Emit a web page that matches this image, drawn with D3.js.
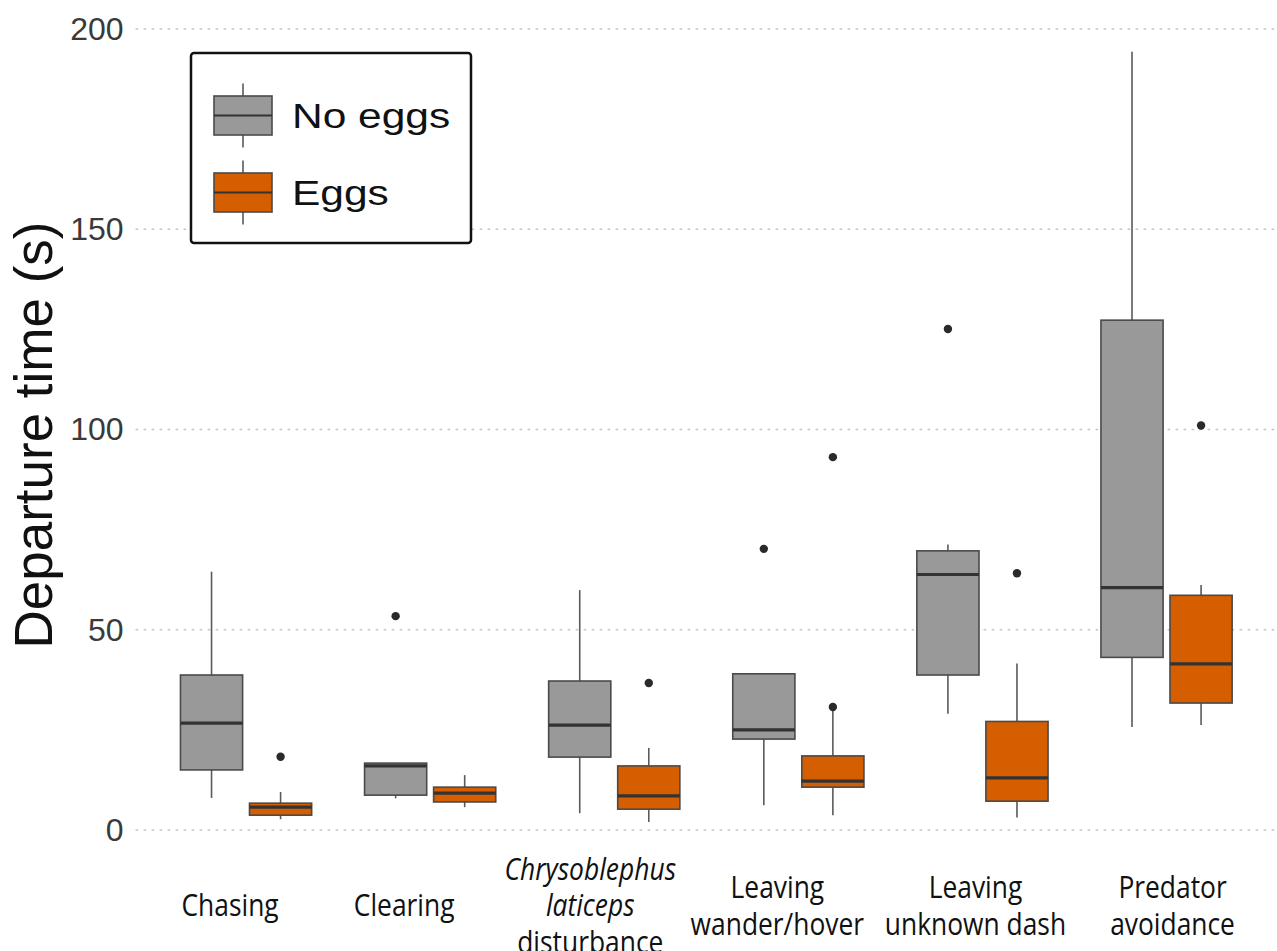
<!DOCTYPE html>
<html>
<head>
<meta charset="utf-8">
<script src="https://cdn.jsdelivr.net/npm/d3@7"></script>
<style>
  html, body { margin: 0; padding: 0; background: #fff; }
  svg { display: block; }
</style>
</head>
<body>
<svg id="chart" width="1277" height="951"></svg>
<script>
// Behaviour categories (x axis); each label is split over lines, italic flags per line
const categories = ["Chasing", "Clearing", "Chrysoblephus laticeps disturbance",
  "Leaving wander/hover", "Leaving unknown dash", "Predator avoidance"];
const categoryLines = [
  [["Chasing", false]],
  [["Clearing", false]],
  [["Chrysoblephus", true], ["laticeps", true], ["disturbance", false]],
  [["Leaving", false], ["wander/hover", false]],
  [["Leaving", false], ["unknown dash", false]],
  [["Predator", false], ["avoidance", false]]
];
const groups = ["No eggs", "Eggs"];

// Box-plot statistics, departure time in seconds
const noEggsLow  = [8.0, 7.9, 4.2, 6.2, 29.0, 25.7];
const noEggsQ1   = [15.0, 8.7, 18.2, 22.7, 38.7, 43.1];
const noEggsMed  = [26.7, 16.0, 26.2, 25.0, 63.8, 60.5];
const noEggsQ3   = [38.7, 16.7, 37.2, 39.0, 69.7, 127.3];
const noEggsHigh = [64.5, 16.7, 59.9, 39.0, 71.3, 194.3];
const noEggsOut  = [[], [53.4], [], [70.2], [125.1], []];

const eggsLow  = [2.7, 5.7, 2.0, 3.7, 3.1, 26.2];
const eggsQ1   = [3.7, 7.0, 5.2, 10.7, 7.2, 31.7];
const eggsMed  = [5.7, 9.2, 8.5, 12.2, 13.0, 41.5];
const eggsQ3   = [6.7, 10.7, 16.0, 18.5, 27.1, 58.6];
const eggsHigh = [9.5, 13.7, 20.5, 30.0, 41.6, 61.2];
const eggsOut  = [[18.3], [], [36.7], [30.7, 93.1], [64.1], [101.0]];

const yTicks = [0, 50, 100, 150, 200];
const fillColors = { "No eggs": "#999999", "Eggs": "#D55E00" };

// Layout: small horizontal nudges of the category captions relative to their band centre
const labelShift = [-16, -26, -24, -21, -7, 6];

const svg = d3.select("#chart");
const panel = { left: 135.6, right: 1277, top: 29, bottom: 830 };

const x0 = d3.scaleBand().domain(categories)
  .range([panel.left, panel.right]).paddingInner(0).paddingOuter(0.1);
const x1 = d3.scaleBand().domain(groups)
  .range([23, x0.bandwidth() - 23]).paddingInner(0.1).paddingOuter(0.05);
const y = d3.scaleLinear().domain([0, 200]).range([panel.bottom, panel.top]);

// Dotted horizontal grid lines
svg.append("g").selectAll("line").data(yTicks).join("line")
  .attr("x1", panel.left).attr("x2", panel.right)
  .attr("y1", d => y(d)).attr("y2", d => y(d))
  .attr("stroke", "#c4c4c4").attr("stroke-width", 1.6)
  .attr("stroke-dasharray", "2.5,5.5");

// Y axis tick labels
const yAxis = d3.axisLeft(y).tickValues(yTicks).tickSize(0).tickPadding(12);
const yg = svg.append("g").attr("transform", `translate(${panel.left},0)`).call(yAxis);
yg.select(".domain").remove();
yg.selectAll("text")
  .attr("font-family", "Liberation Sans, Arial, sans-serif")
  .attr("font-size", 32).attr("fill", "#3a3a3a");

// Y axis title
svg.append("text")
  .attr("transform", "translate(52,435) rotate(-90)")
  .attr("text-anchor", "middle")
  .attr("font-family", "Liberation Sans, Arial, sans-serif")
  .attr("font-size", 53).attr("fill", "#111")
  .text("Departure time (s)");

// Assemble per-box records from the arrays
const boxes = [];
categories.forEach((c, i) => {
  boxes.push({ cat: c, grp: "No eggs", low: noEggsLow[i], q1: noEggsQ1[i], med: noEggsMed[i],
    q3: noEggsQ3[i], high: noEggsHigh[i], out: noEggsOut[i] });
  boxes.push({ cat: c, grp: "Eggs", low: eggsLow[i], q1: eggsQ1[i], med: eggsMed[i],
    q3: eggsQ3[i], high: eggsHigh[i], out: eggsOut[i] });
});

const bw = x1.bandwidth();
const bx = d => x0(d.cat) + x1(d.grp);
const cx = d => bx(d) + bw / 2;

const bg = svg.append("g").selectAll("g").data(boxes).join("g");

// Whiskers
bg.append("line").attr("x1", cx).attr("x2", cx)
  .attr("y1", d => y(d.high)).attr("y2", d => y(d.q3))
  .attr("stroke", "#5a5a5a").attr("stroke-width", 1.6);
bg.append("line").attr("x1", cx).attr("x2", cx)
  .attr("y1", d => y(d.q1)).attr("y2", d => y(d.low))
  .attr("stroke", "#5a5a5a").attr("stroke-width", 1.6);

// Boxes
bg.append("rect")
  .attr("x", bx).attr("width", bw)
  .attr("y", d => y(d.q3)).attr("height", d => y(d.q1) - y(d.q3))
  .attr("fill", d => fillColors[d.grp])
  .attr("stroke", "#4a4a4a").attr("stroke-width", 1.6);

// Medians
bg.append("line").attr("x1", bx).attr("x2", d => bx(d) + bw)
  .attr("y1", d => y(d.med)).attr("y2", d => y(d.med))
  .attr("stroke", "#333").attr("stroke-width", 3.2);

// Outliers
bg.selectAll("circle").data(d => d.out.map(v => ({ v, d }))).join("circle")
  .attr("cx", o => cx(o.d)).attr("cy", o => y(o.v)).attr("r", 4.2)
  .attr("fill", "#2a2a2a");

// Category labels (condensed glyphs)
const labelFont = "'Open Sans', 'Noto Sans', sans-serif";
const lg = svg.append("g");
categories.forEach((c, i) => {
  const lines = categoryLines[i];
  const lh = 36.5;
  const top = 904 - (lines.length - 1) * lh / 2;
  const mid = x0(c) + x0.bandwidth() / 2 + labelShift[i];
  lines.forEach(([s, it], j) => {
    lg.append("text")
      .attr("transform", `translate(${mid},${top + j * lh}) scale(0.88,1.04)`)
      .attr("text-anchor", "middle").attr("dominant-baseline", "central")
      .attr("font-family", labelFont).attr("font-size", 30)
      .attr("font-weight", 500).attr("fill", "#111")
      .attr("font-style", it ? "italic" : "normal")
      .text(s);
  });
});

// Legend
const leg = svg.append("g");
leg.append("rect").attr("x", 191).attr("y", 53).attr("width", 280).attr("height", 190)
  .attr("rx", 3).attr("fill", "#fff").attr("stroke", "#111").attr("stroke-width", 2.5);
const legendRows = [{ g: "No eggs", cy: 115.5, base: 128 }, { g: "Eggs", cy: 192.5, base: 205 }];
legendRows.forEach(r => {
  leg.append("line").attr("x1", 243).attr("x2", 243)
    .attr("y1", r.cy - 32).attr("y2", r.cy + 32)
    .attr("stroke", "#5a5a5a").attr("stroke-width", 1.6);
  leg.append("rect").attr("x", 214).attr("y", r.cy - 19.5).attr("width", 58).attr("height", 39)
    .attr("fill", fillColors[r.g]).attr("stroke", "#4a4a4a").attr("stroke-width", 1.6);
  leg.append("line").attr("x1", 214).attr("x2", 272).attr("y1", r.cy).attr("y2", r.cy)
    .attr("stroke", "#333").attr("stroke-width", 2.2);
  leg.append("text")
    .attr("transform", `translate(292,${r.base}) scale(1.18,1)`)
    .attr("font-family", "Liberation Sans, Arial, sans-serif")
    .attr("font-size", 36).attr("fill", "#111").text(r.g);
});
</script>
</body>
</html>
